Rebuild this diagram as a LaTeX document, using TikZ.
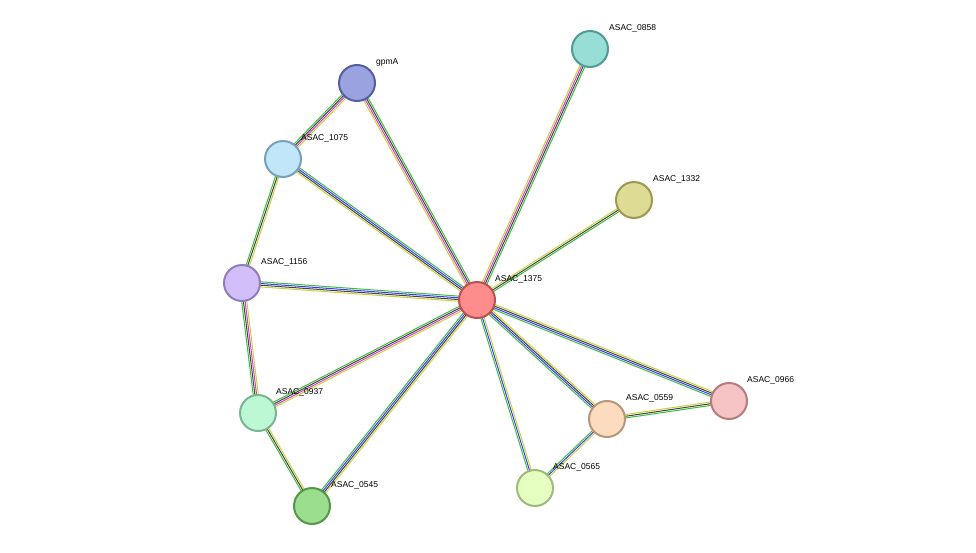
\documentclass[tikz,border=0pt]{standalone}
\usepackage{fontspec}
\setmainfont{Liberation Sans}
\usetikzlibrary{calc}
\definecolor{eG}{HTML}{3DBF3D}
\definecolor{eY}{HTML}{C8D23A}
\definecolor{eB}{HTML}{3D3DF0}
\definecolor{eM}{HTML}{D040D0}
\definecolor{eK}{HTML}{444444}
\newcommand\edg[4]{\foreach \c [count=\i] in {#4} {\pgfmathsetmacro\o{(\i-(#3+1)/2)*1.7}
  \draw[line width=1pt,draw=\c] ($(#1)!\o pt!90:(#2)$) -- ($(#2)!\o pt!-90:(#1)$);}}
\begin{document}
\begin{tikzpicture}[x=1pt,y=-1pt,
 nd/.style={circle,minimum size=36pt,inner sep=0pt,line width=2pt},
 lb/.style={anchor=west,font=\fontsize{8.5}{10}\selectfont,inner sep=0pt}]
\useasboundingbox (0,0) rectangle (976,552);
\coordinate (c1375) at (477,300);
\coordinate (c0858) at (590,49);
\coordinate (c1332) at (634,200);
\coordinate (cgpmA) at (357,83);
\coordinate (c1075) at (283,159);
\coordinate (c1156) at (242,283);
\coordinate (c0937) at (258,413);
\coordinate (c0545) at (312,506);
\coordinate (c0565) at (535,488);
\coordinate (c0559) at (607,419);
\coordinate (c0966) at (729,401);
\edg{c1375}{c0858}{4}{eG,eK,eM,eY}
\edg{c1375}{c1332}{3}{eG,eK,eY}
\edg{c1375}{cgpmA}{4}{eG,eK,eM,eY}
\edg{c1375}{c1075}{4}{eG,eB,eK,eY}
\edg{c1375}{c1156}{4}{eG,eB,eK,eY}
\edg{c1375}{c0937}{4}{eG,eK,eM,eY}
\edg{c1375}{c0545}{4}{eG,eB,eK,eY}
\edg{c1375}{c0565}{3}{eG,eB,eY}
\edg{c1375}{c0559}{4}{eG,eB,eK,eY}
\edg{c1375}{c0966}{4}{eG,eB,eK,eY}
\edg{cgpmA}{c1075}{4}{eG,eK,eM,eY}
\edg{c1075}{c1156}{3}{eG,eK,eY}
\edg{c1156}{c0937}{4}{eG,eK,eM,eY}
\edg{c0937}{c0545}{3}{eG,eK,eY}
\edg{c0559}{c0966}{3}{eG,eK,eY}
\edg{c0559}{c0565}{3}{eG,eB,eY}
\node[nd,fill={rgb,255:red,255;green,140;blue,140},draw={rgb,255:red,190;green,80;blue,80}] (n1375) at (c1375) {};
\node[nd,fill={rgb,255:red,150;green,222;blue,214},draw={rgb,255:red,80;green,155;blue,148}] (n0858) at (c0858) {};
\node[nd,fill={rgb,255:red,222;green,220;blue,148},draw={rgb,255:red,155;green,153;blue,80}] (n1332) at (c1332) {};
\node[nd,fill={rgb,255:red,154;green,163;blue,224},draw={rgb,255:red,85;green,95;blue,160}] (ngpmA) at (cgpmA) {};
\node[nd,fill={rgb,255:red,193;green,230;blue,250},draw={rgb,255:red,120;green,160;blue,185}] (n1075) at (c1075) {};
\node[nd,fill={rgb,255:red,210;green,191;blue,250},draw={rgb,255:red,145;green,125;blue,185}] (n1156) at (c1156) {};
\node[nd,fill={rgb,255:red,188;green,248;blue,212},draw={rgb,255:red,125;green,180;blue,145}] (n0937) at (c0937) {};
\node[nd,fill={rgb,255:red,155;green,222;blue,142},draw={rgb,255:red,85;green,150;blue,75}] (n0545) at (c0545) {};
\node[nd,fill={rgb,255:red,228;green,255;blue,192},draw={rgb,255:red,160;green,185;blue,125}] (n0565) at (c0565) {};
\node[nd,fill={rgb,255:red,253;green,219;blue,190},draw={rgb,255:red,185;green,150;blue,120}] (n0559) at (c0559) {};
\node[nd,fill={rgb,255:red,246;green,196;blue,196},draw={rgb,255:red,180;green,125;blue,125}] (n0966) at (c0966) {};
\node[lb] at (495,279) {ASAC\_1375};
\node[lb] at (609,28) {ASAC\_0858};
\node[lb] at (653,179) {ASAC\_1332};
\node[lb] at (376,62) {gpmA};
\node[lb] at (301,138) {ASAC\_1075};
\node[lb] at (261,262) {ASAC\_1156};
\node[lb] at (276,392) {ASAC\_0937};
\node[lb] at (331,485) {ASAC\_0545};
\node[lb] at (553,467) {ASAC\_0565};
\node[lb] at (626,398) {ASAC\_0559};
\node[lb] at (747,380) {ASAC\_0966};
\end{tikzpicture}
\end{document}
